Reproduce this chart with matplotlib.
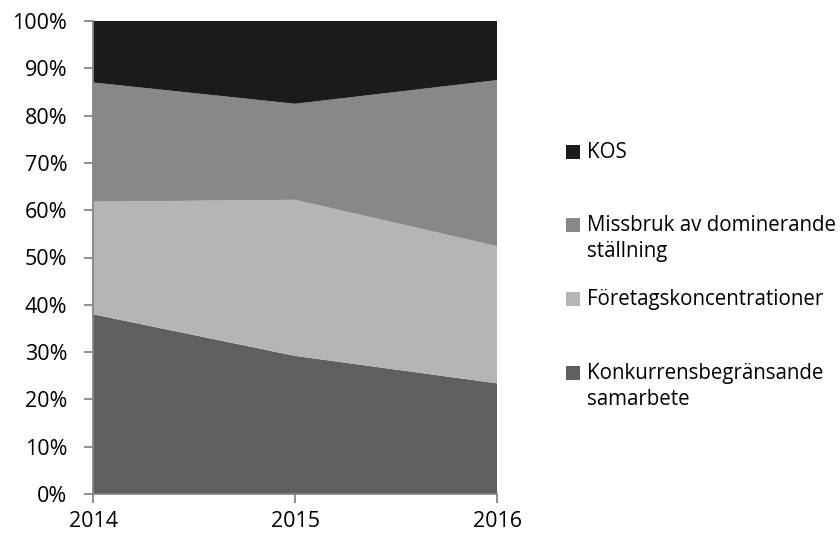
import numpy as np
import matplotlib
matplotlib.use("Agg")
import matplotlib.pyplot as plt
from matplotlib.patches import Rectangle

years = [2014, 2015, 2016]
konkurrens = [38.0, 29.2, 23.4]
foretag = [23.8, 33.0, 29.0]
missbruk = [25.2, 20.3, 35.1]
kos = [13.0, 17.5, 12.5]

labels = ["Konkurrensbegränsande\nsamarbete", "Företagskoncentrationer",
          "Missbruk av dominerande\nställning", "KOS"]
colors = ["#5f5f5f", "#b5b5b5", "#888888", "#1b1b1b"]
y_ticks = np.arange(0, 101, 10)

plt.rcParams['font.family'] = ['Open Sans', 'DejaVu Sans']

fig = plt.figure(figsize=(8.4, 5.38), dpi=100)
ax = fig.add_axes([93 / 840, 1 - 494 / 538, 404 / 840, 473 / 538])

ax.stackplot(years, konkurrens, foretag, missbruk, kos, colors=colors, linewidth=0)
ax.set_xlim(2014, 2016)
ax.set_ylim(0, 100)
ax.set_xticks(years)
ax.set_xticklabels([str(y) for y in years])
ax.set_yticks(y_ticks)
ax.set_yticklabels([f"{v}%" for v in y_ticks])

for side in ["top", "right"]:
    ax.spines[side].set_visible(False)
for side in ["left", "bottom"]:
    ax.spines[side].set_color("#868686")
    ax.spines[side].set_linewidth(1.3)
ax.tick_params(axis="both", colors="#868686", length=6.5, width=1.3, labelcolor="black",
               labelsize=15.5)
ax.tick_params(axis="y", pad=12)
ax.tick_params(axis="x", pad=6)

# legend drawn by hand, top entry first
legend_y = [152, 225, 299, 373]
for lab, col, yy in zip(labels[::-1], colors[::-1], legend_y):
    fy = 1 - yy / 538
    fig.patches.append(Rectangle((566 / 840, fy - 7 / 538), 14 / 840, 14 / 538,
                                 transform=fig.transFigure, facecolor=col, edgecolor="none"))
    fig.text(587 / 840, fy + 10 / 538, lab, fontsize=14.8, va="top", ha="left",
             linespacing=1.33)

fig.savefig("out.png", dpi=100)
